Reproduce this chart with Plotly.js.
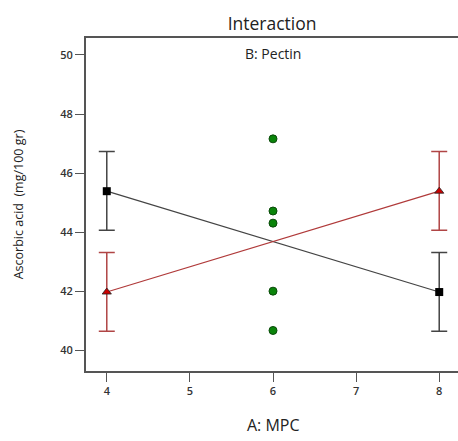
<!DOCTYPE html>
<html><head><meta charset="utf-8">
<script src="https://cdn.plot.ly/plotly-3.0.1.min.js"></script>
<style>html,body{margin:0;padding:0;overflow:hidden;background:#fff}#chart{width:460px;height:441px}</style>
</head><body><div id="chart"></div>
<script>
const mpc = [4, 8];
const blackMeans = [45.39, 41.98];
const blackLow = [44.07, 40.65];
const blackHigh = [46.73, 43.32];
const redMeans = [41.98, 45.39];
const redLow = [40.65, 44.07];
const redHigh = [43.32, 46.73];
const designX = [6, 6, 6, 6, 6];
const designY = [47.16, 44.72, 44.31, 42.01, 40.68];
const xTicks = [4, 5, 6, 7, 8];
const yTicks = [40, 42, 44, 46, 48, 50];

function errs(m, lo, hi){
  return {type:'data', symmetric:false,
    array: m.map((v,i)=>hi[i]-v), arrayminus: m.map((v,i)=>v-lo[i])};
}
const traces = [
  {x: mpc, y: blackMeans, mode:'lines+markers', type:'scatter',
   line:{color:'#444', width:1.2},
   marker:{symbol:'square', size:8, color:'#000'},
   error_y: Object.assign(errs(blackMeans, blackLow, blackHigh), {color:'#444', thickness:1.5, width:8})},
  {x: mpc, y: redMeans, mode:'lines+markers', type:'scatter',
   line:{color:'#b03a3a', width:1.2},
   marker:{symbol:'triangle-up', size:8, color:'#cc0000', line:{color:'#222', width:0.8}},
   error_y: Object.assign(errs(redMeans, redLow, redHigh), {color:'#b04545', thickness:1.5, width:8})},
  {x: designX, y: designY, mode:'markers', type:'scatter',
   marker:{symbol:'circle', size:8, color:'#0a840a', line:{color:'#0a4a0a', width:1}}}
];
const layout = {
  width:460, height:441, showlegend:false,
  margin:{l:86, r:0, t:38, b:70},
  paper_bgcolor:'#fff', plot_bgcolor:'#fff',
  font:{family:'Open Sans, sans-serif', color:'#222'},
  title:{text:'Interaction', font:{size:17.5, color:'#222'}, x:0.5915, xanchor:'center', y:0.946, yanchor:'middle'},
  xaxis:{range:[3.75, 8.25], tickvals:xTicks, ticktext:xTicks.map(String),
    showgrid:false, zeroline:false, showline:true, linecolor:'#555', linewidth:2, mirror:true,
    ticks:'outside', ticklen:9, tickcolor:'#555', tickwidth:1,
    tickfont:{size:11, color:'#333', weight:600}},
  yaxis:{range:[39.31, 50.57], tickvals:yTicks, ticktext:yTicks.map(String),
    showgrid:false, zeroline:false, showline:true, linecolor:'#555', linewidth:2, mirror:true,
    ticks:'outside', ticklen:9, tickcolor:'#555', tickwidth:1,
    tickfont:{size:11, color:'#333', weight:600},
    title:{text:'Ascorbic acid  (mg/100 gr)', font:{size:12.5, color:'#222'}, standoff:34}},
  annotations:[
    {text:'B: Pectin', xref:'x', yref:'paper', x:6, y:0.953, showarrow:false,
     font:{size:14, color:'#222'}, xanchor:'center', yanchor:'middle'},
    {text:'A: MPC', xref:'x', yref:'paper', x:6, y:-0.2, showarrow:false,
     font:{size:16, color:'#222'}, xanchor:'center', yanchor:'bottom'}
  ]
};
Plotly.newPlot('chart', traces, layout, {displayModeBar:false, staticPlot:true});
</script></body></html>
